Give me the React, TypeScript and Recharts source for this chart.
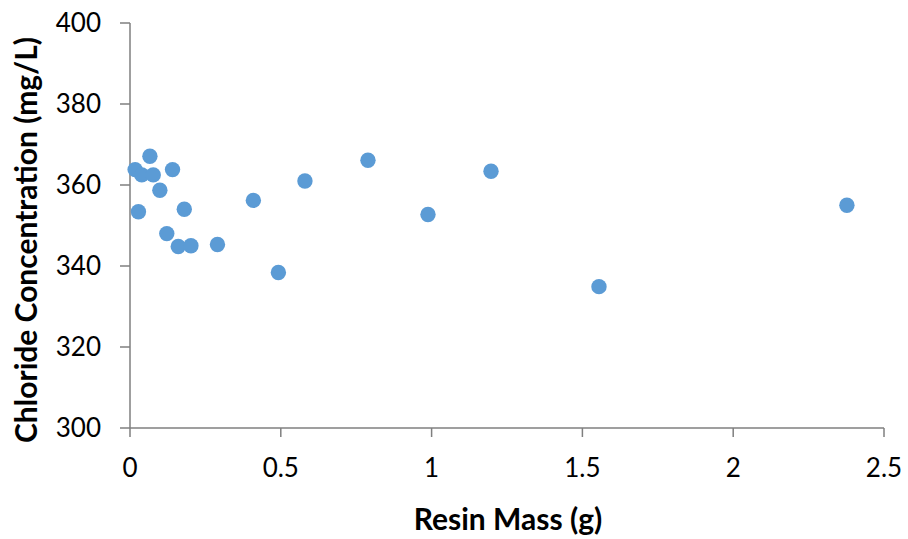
import React from "react";
import { ScatterChart, Scatter, XAxis, YAxis, Label } from "recharts";

const resinMass = [0.066, 0.017, 0.039, 0.077, 0.141, 0.099, 0.028, 0.18, 0.122, 0.16, 0.202, 0.29, 0.409, 0.58, 0.492, 0.789, 0.988, 1.197, 1.555, 2.377];
const chloride = [367.1, 363.8, 362.5, 362.5, 363.8, 358.7, 353.4, 354.0, 348.0, 344.8, 345.0, 345.3, 356.2, 361.0, 338.4, 366.1, 352.7, 363.4, 334.9, 355.0];
const xTicks = [0, 0.5, 1, 1.5, 2, 2.5];
const yTicks = [300, 320, 340, 360, 380, 400];

const data = resinMass.map((x, i) => ({ x, y: chloride[i] }));

const AXIS = "#7f7f7f";
const FONT = "Lato, 'Open Sans', sans-serif";

const Dot = (props: any) => <circle cx={props.cx} cy={props.cy} r={7.7} fill="#5B9BD5" />;

export default function App() {
  return (
    <div style={{ position: "absolute", left: 0, top: 0, background: "#fff" }}>
      <ScatterChart width={908} height={539} margin={{ top: 23, right: 24, bottom: 0, left: 0 }}>
        <XAxis
          type="number"
          dataKey="x"
          domain={[0, 2.5]}
          ticks={xTicks}
          height={111}
          tickSize={9}
          tickMargin={22}
          stroke={AXIS}
          strokeWidth={1.5}
          tick={{ fill: "#000", fontSize: 26, fontFamily: FONT }}
        >
          <Label
            content={(p: any) => {
              const vb = p.viewBox;
              return (
                <text x={vb.x + vb.width / 2 + 1} y={530} textAnchor="middle" fontFamily={FONT} fontWeight="bold" fontSize={30} fill="#000">
                  Resin Mass (g)
                </text>
              );
            }}
          />
        </XAxis>
        <YAxis
          type="number"
          dataKey="y"
          domain={[300, 400]}
          ticks={yTicks}
          width={130}
          tickSize={10}
          tickMargin={19}
          stroke={AXIS}
          strokeWidth={1.5}
          tick={{ fill: "#000", fontSize: 26, fontFamily: FONT }}
        >
          <Label
            content={() => (
              <text x={37} y={240} transform="rotate(-90, 37, 240)" textAnchor="middle" fontFamily={FONT} fontWeight="bold" fontSize={30} fill="#000">
                Chloride Concentration (mg/L)
              </text>
            )}
          />
        </YAxis>
        <Scatter data={data} shape={<Dot />} isAnimationActive={false} />
      </ScatterChart>
    </div>
  );
}
